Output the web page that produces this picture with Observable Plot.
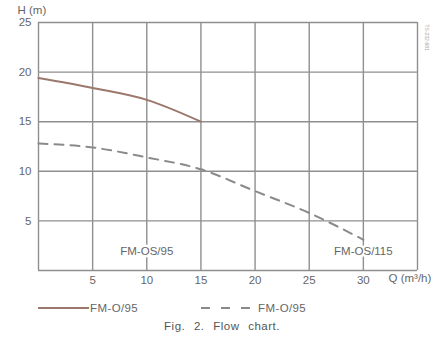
<!DOCTYPE html>
<html>
<head>
<meta charset="utf-8">
<script src="https://cdn.jsdelivr.net/npm/d3@7"></script>
<script src="https://cdn.jsdelivr.net/npm/@observablehq/plot@0.6"></script>
<style>
  body { margin: 0; background: #fff; font-family: "Liberation Sans", Arial, sans-serif; }
  #wrap { width: 444px; position: relative; }
  .legend { position: relative; height: 30px; }
  .caption { text-align: center; font-size: 11.5px; color: #555; margin-left: 0; margin-top: 0; letter-spacing: 0.5px; word-spacing: 5px; }
</style>
</head>
<body>
<div id="wrap"></div>
<script>
// Data
const flowSolid = [0, 5, 10, 15];
const headSolid = [19.4, 18.4, 17.2, 15.0];
const flowDashed = [0, 5, 10, 15, 20, 25, 30];
const headDashed = [12.8, 12.4, 11.4, 10.2, 8.0, 5.8, 3.1];
const seriesNames = ["FM-O/95", "FM-O/95"];
const pumpLabels = ["FM-OS/95", "FM-OS/115"];
const pumpLabelX = [10, 30];
const pumpLabelY = [1.9, 1.9];
const xTicks = [5, 10, 15, 20, 25, 30];
const yTicks = [5, 10, 15, 20, 25];
const gridX = [0, 5, 10, 15, 20, 25, 30, 35];
const gridY = [0, 5, 10, 15, 20, 25];

const solid = flowSolid.map((q, i) => ({q, h: headSolid[i]}));
const dashed = flowDashed.map((q, i) => ({q, h: headDashed[i]}));
const labels = pumpLabels.map((t, i) => ({t, q: pumpLabelX[i], h: pumpLabelY[i]}));

const gridColor = "#8f8f8f";
const txt = "#666";
const chart = Plot.plot({
  width: 444,
  height: 290,
  marginTop: 22,
  marginBottom: 20,
  marginLeft: 38,
  marginRight: 27,
  x: {domain: [0, 35], label: null},
  y: {domain: [0, 25], label: null},
  style: {fontFamily: "Liberation Sans, Arial, sans-serif", fontSize: "11.5px", color: txt},
  marks: [
    Plot.ruleX(gridX, {stroke: gridColor, strokeWidth: 1.4}),
    Plot.ruleY(gridY, {stroke: gridColor, strokeWidth: 1.4}),
    Plot.line(dashed, {x: "q", y: "h", stroke: "#8a8a8a", strokeWidth: 2, strokeDasharray: "9,7", curve: "monotone-x"}),
    Plot.line(solid, {x: "q", y: "h", stroke: "#9c776b", strokeWidth: 2, curve: "monotone-x"}),
    Plot.text(labels, {x: "q", y: "h", text: "t", fill: txt, fontSize: 11.5, stroke: "white", strokeWidth: 5}),
    Plot.axisX({ticks: xTicks, tickSize: 0, tickPadding: 5, label: null, fill: txt, fontSize: 11.5}),
    Plot.axisY({ticks: yTicks, tickSize: 0, tickPadding: 7, label: null, fill: txt, fontSize: 11.5}),
    Plot.text(["Q (m³/h)"], {x: 35, y: 0, frameAnchor: "bottom", dy: 11, dx: -29, textAnchor: "start", fill: txt, fontSize: 11.5}),
    Plot.text(["H (m)"], {x: 0, y: 25, dy: -12, dx: -21, textAnchor: "start", fill: txt, fontSize: 11.5}),
    Plot.text(["TS-232-681"], {x: 35, y: 25, dx: 9, dy: 2, rotate: 90, textAnchor: "start", fill: "#aaa", fontSize: 5})
  ]
});
const wrap = document.getElementById("wrap");
wrap.appendChild(chart);

const legend = document.createElement("div");
legend.className = "legend";
legend.innerHTML = `
<svg width="444" height="30" style="position:absolute;left:0;top:0">
  <line x1="38" x2="89" y1="18" y2="18" stroke="#9c776b" stroke-width="2"/>
  <text x="90" y="22" font-size="11.5" letter-spacing="0.4" fill="${txt}" font-family="Liberation Sans, Arial, sans-serif">${seriesNames[0]}</text>
  <line x1="201" x2="258" y1="18" y2="18" stroke="#8a8a8a" stroke-width="2" stroke-dasharray="9,11"/>
  <text x="258" y="22" font-size="11.5" letter-spacing="0.4" fill="${txt}" font-family="Liberation Sans, Arial, sans-serif">${seriesNames[1]}</text>
</svg>`;
wrap.appendChild(legend);
const cap = document.createElement("div");
cap.className = "caption";
cap.textContent = "Fig. 2. Flow chart.";
wrap.appendChild(cap);
</script>
</body>
</html>
